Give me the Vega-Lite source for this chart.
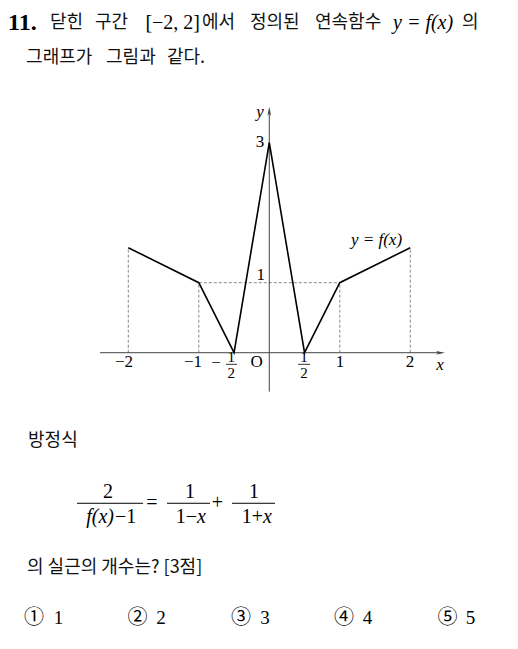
{
  "$schema": "https://vega.github.io/schema/vega-lite/v6.json",
  "width": 518,
  "height": 649,
  "autosize": {"type": "fit", "contains": "padding"},
  "padding": 0,
  "background": "white",
  "config": {"view": {"stroke": null}},
  "encoding": {
    "x": {"field": "x", "type": "quantitative", "axis": null, "scale": {"domain": [-3.82, 3.528], "nice": false, "zero": false}},
    "y": {"field": "y", "type": "quantitative", "axis": null, "scale": {"domain": [-4.233, 5.039], "nice": false, "zero": false}}
  },
  "layer": [
    {
      "data": {"values": [
        {"x": -2, "y": 0, "x2": -2, "y2": 1.5},
        {"x": -1, "y": 0, "x2": -1, "y2": 1},
        {"x": 1, "y": 0, "x2": 1, "y2": 1},
        {"x": 2, "y": 0, "x2": 2, "y2": 1.5},
        {"x": -1, "y": 1, "x2": 1, "y2": 1}
      ]},
      "mark": {"type": "rule", "color": "#555", "strokeWidth": 0.7, "strokeDash": [3, 2]},
      "encoding": {"x2": {"field": "x2"}, "y2": {"field": "y2"}}
    },
    {
      "data": {"values": [
        {"x": -2.4, "y": 0, "x2": 2.45, "y2": 0},
        {"x": 0, "y": -0.557, "x2": 0, "y2": 3.47}
      ]},
      "mark": {"type": "rule", "color": "#444", "strokeWidth": 1},
      "encoding": {"x2": {"field": "x2"}, "y2": {"field": "y2"}}
    },
    {
      "data": {"values": [
        {"x": 2.428, "y": 0, "dir": "right"},
        {"x": 0, "y": 3.45, "dir": "up"}
      ]},
      "mark": {"type": "point", "filled": true, "color": "#444", "opacity": 1, "size": 81},
      "encoding": {
        "shape": {"field": "dir", "type": "nominal", "legend": null,
          "scale": {"domain": ["right", "up"], "range": ["M1,0L-1,-0.4L-0.5,0L-1,0.4Z", "M0,-1L-0.4,1L0,0.5L0.4,1Z"]}}
      }
    },
    {
      "data": {"values": [
        {"x": -2, "y": 1.5},
        {"x": -1, "y": 1},
        {"x": -0.5, "y": 0},
        {"x": 0, "y": 3},
        {"x": 0.5, "y": 0},
        {"x": 1, "y": 1},
        {"x": 2, "y": 1.5}
      ]},
      "mark": {"type": "line", "color": "black", "strokeWidth": 1.6}
    },
    {
      "data": {"values": [
        {"x": -0.614, "x2": -0.458, "y": -0.166},
        {"x": 0.408, "x2": 0.578, "y": -0.166}
      ]},
      "mark": {"type": "rule", "color": "black", "strokeWidth": 0.8},
      "encoding": {"x2": {"field": "x2"}}
    },
    {
      "data": {"values": [
        {"x": -2.728, "x2": -1.791, "y": -2.151},
        {"x": -1.451, "x2": -0.841, "y": -2.151},
        {"x": -0.529, "x2": 0.081, "y": -2.151}
      ]},
      "mark": {"type": "rule", "color": "black", "strokeWidth": 1},
      "encoding": {"x2": {"field": "x2"}}
    },
    {
      "data": {"values": [{"x": -3.706, "y": 4.71, "t": "11."}]},
      "mark": {"type": "text", "font": "Liberation Serif", "fontWeight": "bold", "fontSize": 24, "align": "left", "baseline": "middle", "color": "black"},
      "encoding": {"text": {"field": "t"}}
    },
    {
      "data": {"values": [
        {"x": -3.111, "y": 4.71, "t": "닫힌"},
        {"x": -2.472, "y": 4.71, "t": "구간"},
        {"x": -0.955, "y": 4.71, "t": "에서"},
        {"x": -0.274, "y": 4.71, "t": "정의된"},
        {"x": 0.648, "y": 4.71, "t": "연속함수"},
        {"x": 2.733, "y": 4.71, "t": "의"},
        {"x": -3.45, "y": 4.217, "t": "그래프가"},
        {"x": -2.316, "y": 4.217, "t": "그림과"},
        {"x": -1.451, "y": 4.217, "t": "같다."},
        {"x": -3.422, "y": -1.261, "t": "방정식"},
        {"x": -3.437, "y": -3.069, "t": "의 실근의 개수는? [3점]"}
      ]},
      "mark": {"type": "text", "font": "Noto Sans CJK KR", "fontSize": 18, "align": "left", "baseline": "middle", "color": "#111"},
      "encoding": {"text": {"field": "t"}}
    },
    {
      "data": {"values": [{"x": -0.983, "y": 4.71, "t": "[−2,  2]"}]},
      "mark": {"type": "text", "font": "Liberation Serif", "fontSize": 20, "align": "right", "baseline": "middle", "color": "black"},
      "encoding": {"text": {"field": "t"}}
    },
    {
      "data": {"values": [{"x": 1.755, "y": 4.71, "t": "y = f(x)"}]},
      "mark": {"type": "text", "font": "Liberation Serif", "fontStyle": "italic", "fontSize": 20, "align": "left", "baseline": "middle", "color": "black"},
      "encoding": {"text": {"field": "t"}}
    },
    {
      "data": {"values": [
        {"x": -0.132, "y": 3.014, "t": "3"},
        {"x": -0.122, "y": 1.11, "t": "1"},
        {"x": -0.179, "y": -0.133, "t": "O"},
        {"x": 1.003, "y": -0.133, "t": "1"},
        {"x": 1.996, "y": -0.133, "t": "2"},
        {"x": -0.756, "y": -0.147, "t": "−"}
      ]},
      "mark": {"type": "text", "font": "Liberation Serif", "fontSize": 17, "align": "center", "baseline": "middle", "color": "black"},
      "encoding": {"text": {"field": "t"}}
    },
    {
      "data": {"values": [
        {"x": -1.933, "y": -0.133, "t": "−2"},
        {"x": -0.955, "y": -0.133, "t": "−1"}
      ]},
      "mark": {"type": "text", "font": "Liberation Serif", "fontSize": 17, "align": "right", "baseline": "middle", "color": "black"},
      "encoding": {"text": {"field": "t"}}
    },
    {
      "data": {"values": [
        {"x": -0.539, "y": -0.06, "t": "1"},
        {"x": -0.539, "y": -0.29, "t": "2"},
        {"x": 0.492, "y": -0.06, "t": "1"},
        {"x": 0.492, "y": -0.29, "t": "2"}
      ]},
      "mark": {"type": "text", "font": "Liberation Serif", "fontSize": 15, "align": "center", "baseline": "middle", "color": "black"},
      "encoding": {"text": {"field": "t"}}
    },
    {
      "data": {"values": [
        {"x": -0.132, "y": 3.443, "t": "y"},
        {"x": 2.421, "y": -0.176, "t": "x"},
        {"x": 1.521, "y": 1.61, "t": "y = f(x)"}
      ]},
      "mark": {"type": "text", "font": "Liberation Serif", "fontStyle": "italic", "fontSize": 17, "align": "center", "baseline": "middle", "color": "black"},
      "encoding": {"text": {"field": "t"}}
    },
    {
      "data": {"values": [
        {"x": -2.288, "y": -1.986, "t": "2"},
        {"x": -1.664, "y": -2.147, "t": "="},
        {"x": -1.125, "y": -1.99, "t": "1"},
        {"x": -0.735, "y": -2.147, "t": "+"},
        {"x": -0.217, "y": -1.99, "t": "1"}
      ]},
      "mark": {"type": "text", "font": "Liberation Serif", "fontSize": 20, "align": "center", "baseline": "middle", "color": "black"},
      "encoding": {"text": {"field": "t"}}
    },
    {
      "data": {"values": [
        {"x": -1.026, "y": -2.343, "t": "1−"},
        {"x": -0.089, "y": -2.343, "t": "1+"}
      ]},
      "mark": {"type": "text", "font": "Liberation Serif", "fontSize": 20, "align": "right", "baseline": "middle", "color": "black"},
      "encoding": {"text": {"field": "t"}}
    },
    {
      "data": {"values": [
        {"x": -2.203, "y": -2.343, "t": "f(x)"}
      ]},
      "mark": {"type": "text", "font": "Liberation Serif", "fontStyle": "italic", "fontSize": 20, "align": "right", "baseline": "middle", "color": "black"},
      "encoding": {"text": {"field": "t"}}
    },
    {
      "data": {"values": [
        {"x": -2.19, "y": -2.343, "t": "−1"}
      ]},
      "mark": {"type": "text", "font": "Liberation Serif", "fontSize": 20, "align": "left", "baseline": "middle", "color": "black"},
      "encoding": {"text": {"field": "t"}}
    },
    {
      "data": {"values": [
        {"x": -1.026, "y": -2.343, "t": "x"},
        {"x": -0.089, "y": -2.343, "t": "x"}
      ]},
      "mark": {"type": "text", "font": "Liberation Serif", "fontStyle": "italic", "fontSize": 20, "align": "left", "baseline": "middle", "color": "black"},
      "encoding": {"text": {"field": "t"}}
    },
    {
      "data": {"values": [
        {"x": -3.338, "y": -3.79, "t": "①"},
        {"x": -1.869, "y": -3.79, "t": "②"},
        {"x": -0.401, "y": -3.79, "t": "③"},
        {"x": 1.06, "y": -3.79, "t": "④"},
        {"x": 2.528, "y": -3.79, "t": "⑤"}
      ]},
      "mark": {"type": "text", "font": "Noto Sans CJK KR", "fontSize": 20, "align": "center", "baseline": "middle", "color": "black"},
      "encoding": {"text": {"field": "t"}}
    },
    {
      "data": {"values": [
        {"x": -2.99, "y": -3.79, "t": "1"},
        {"x": -1.536, "y": -3.79, "t": "2"},
        {"x": -0.061, "y": -3.79, "t": "3"},
        {"x": 1.393, "y": -3.79, "t": "4"},
        {"x": 2.854, "y": -3.79, "t": "5"}
      ]},
      "mark": {"type": "text", "font": "Liberation Serif", "fontSize": 19, "align": "center", "baseline": "middle", "color": "black"},
      "encoding": {"text": {"field": "t"}}
    }
  ]
}
